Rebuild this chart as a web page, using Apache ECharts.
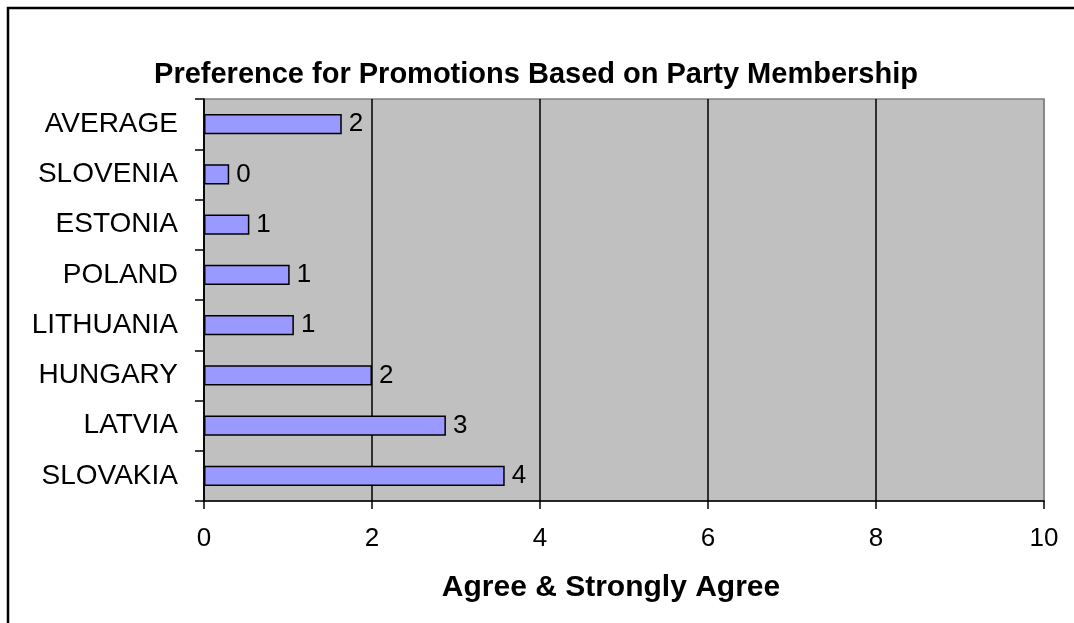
<!DOCTYPE html>
<html>
<head>
<meta charset="utf-8">
<script src="https://cdn.jsdelivr.net/npm/echarts@6/dist/echarts.min.js"></script>
<style>
html,body{margin:0;padding:0;background:#fff;}
#chart{width:1074px;height:623px;}
</style>
</head>
<body>
<div id="chart"></div>
<script>
// Categories listed bottom-to-top (ECharts category y axis starts at the bottom)
var categories = ['SLOVAKIA', 'LATVIA', 'HUNGARY', 'LITHUANIA', 'POLAND', 'ESTONIA', 'SLOVENIA', 'AVERAGE'];
var values = [3.58, 2.88, 2.0, 1.07, 1.02, 0.54, 0.30, 1.64];
var xTicks = [0, 2, 4, 6, 8, 10];
var titleText = 'Preference for Promotions Based on Party Membership';
var xAxisName = 'Agree & Strongly Agree';

var chart = echarts.init(document.getElementById('chart'));
var fontFam = 'Liberation Sans, Arial, sans-serif';
chart.setOption({
  animation: false,
  backgroundColor: '#ffffff',
  title: {
    text: titleText,
    left: 531,
    textAlign: 'center',
    top: 55,
    textStyle: { fontFamily: fontFam, fontWeight: 'bold', fontSize: 29, color: '#000' }
  },
  graphic: [{
    type: 'rect',
    shape: { x: 8, y: 8, width: 1200, height: 800 },
    style: { fill: 'none', stroke: '#000', lineWidth: 2.5 },
    silent: true
  }],
  grid: {
    left: 204, top: 99, right: 30, bottom: 122,
    show: true, backgroundColor: '#c0c0c0', borderColor: '#808080', borderWidth: 1.5
  },
  xAxis: {
    type: 'value', min: xTicks[0], max: xTicks[xTicks.length - 1], interval: 2,
    name: xAxisName, nameLocation: 'middle', nameGap: 72,
    nameTextStyle: { fontFamily: fontFam, fontWeight: 'bold', fontSize: 30, color: '#000', padding: [0, 26, 0, 0] },
    axisLine: { show: true, lineStyle: { color: '#000', width: 1.5 } },
    axisTick: { show: true, length: 8, lineStyle: { color: '#000', width: 1.5 } },
    axisLabel: { fontFamily: fontFam, fontSize: 26, color: '#000', margin: 25 },
    splitLine: { show: true, lineStyle: { color: ['#000', '#000', '#000', '#000', '#000', '#808080'], width: 1.5 } }
  },
  yAxis: {
    type: 'category', data: categories,
    axisLine: { show: true, lineStyle: { color: '#000', width: 1.5 } },
    axisTick: { show: true, length: 9, lineStyle: { color: '#000', width: 1.5 } },
    axisLabel: { fontFamily: fontFam, fontSize: 28, color: '#000', margin: 26 },
    splitLine: { show: false }
  },
  series: [{
    type: 'bar',
    data: values,
    barCategoryGap: '60%',
    itemStyle: { color: '#9999ff', borderColor: '#000', borderWidth: 1.5 },
    label: {
      show: true, position: 'right', distance: 7,
      fontFamily: fontFam, fontSize: 26, color: '#000',
      formatter: function (p) { return Math.round(p.value).toString(); }
    }
  }]
});
</script>
</body>
</html>
